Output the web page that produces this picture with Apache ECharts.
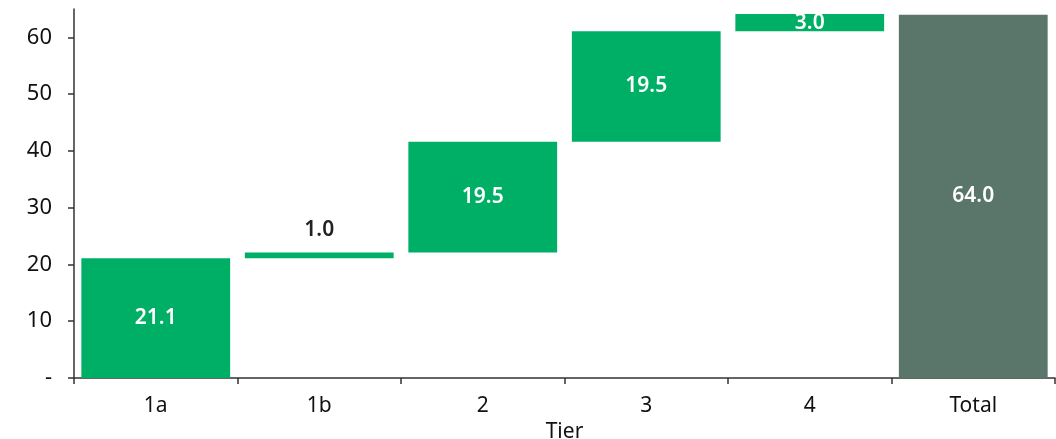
<!DOCTYPE html>
<html>
<head>
<meta charset="utf-8">
<script src="https://cdn.jsdelivr.net/npm/echarts@6/dist/echarts.min.js"></script>
<style>
  html, body { margin: 0; padding: 0; background: #fff; }
  #chart { width: 1056px; height: 439px; }
</style>
</head>
<body>
<div id="chart"></div>
<script>
// Waterfall by tier: each step adds to the running total
const categories = ['1a', '1b', '2', '3', '4', 'Total'];
const stepValues = [21.1, 1.0, 19.5, 19.5, 3.0];
const totalValue = 64.0;
const yTicks = [0, 10, 20, 30, 40, 50, 60];

const FONT = '"Noto Sans", "Open Sans", sans-serif';
const GREEN = '#00AF66';
const TOTAL = '#5A7569';

// invisible offsets for the floating steps
const bases = [];
let running = 0;
stepValues.forEach(v => { bases.push(running); running += v; });
bases.push(0);

const visible = stepValues.map((v, i) => ({
  value: v,
  itemStyle: { color: GREEN },
  label: i === 1
    ? { position: 'top', color: '#222', distance: 12 }
    : { position: 'inside', color: '#fff' }
}));
visible.push({ value: totalValue, itemStyle: { color: TOTAL }, label: { position: 'inside', color: '#fff' } });

const chart = echarts.init(document.getElementById('chart'), null, { renderer: 'canvas' });
chart.setOption({
  animation: false,
  grid: { left: 74, right: 1, top: 9, bottom: 61, containLabel: false, outerBoundsMode: 'none' },
  xAxis: {
    type: 'category',
    data: categories,
    name: 'Tier',
    nameLocation: 'middle',
    nameGap: 39,
    nameTextStyle: { fontFamily: FONT, fontSize: 21, color: '#111', verticalAlign: 'top' },
    axisLine: { lineStyle: { color: '#333', width: 1.5 } },
    axisTick: { show: true, length: 6, alignWithLabel: false, lineStyle: { color: '#333', width: 1.5 } },
    axisLabel: { fontFamily: FONT, fontSize: 21, color: '#111', margin: 18 }
  },
  yAxis: {
    type: 'value',
    min: yTicks[0],
    max: 65,
    interval: 10,
    splitLine: { show: false },
    axisLine: { show: true, lineStyle: { color: '#333', width: 1.5 } },
    axisTick: { show: true, length: 6, lineStyle: { color: '#333', width: 1.5 } },
    axisLabel: {
      fontFamily: FONT, fontSize: 22, color: '#111', margin: 22,
      showMaxLabel: false,
      formatter: v => (v === 0 ? '-' : (yTicks.indexOf(v) >= 0 ? String(v) : ''))
    }
  },
  series: [
    {
      type: 'bar',
      stack: 'wf',
      data: bases,
      itemStyle: { color: 'transparent' },
      emphasis: { disabled: true },
      silent: true,
      barCategoryGap: '9%'
    },
    {
      type: 'bar',
      stack: 'wf',
      data: visible,
      barCategoryGap: '9%',
      label: {
        show: true,
        fontFamily: FONT,
        fontSize: 21,
        fontWeight: 600,
        formatter: p => p.value.toFixed(1)
      }
    }
  ]
});
</script>
</body>
</html>
